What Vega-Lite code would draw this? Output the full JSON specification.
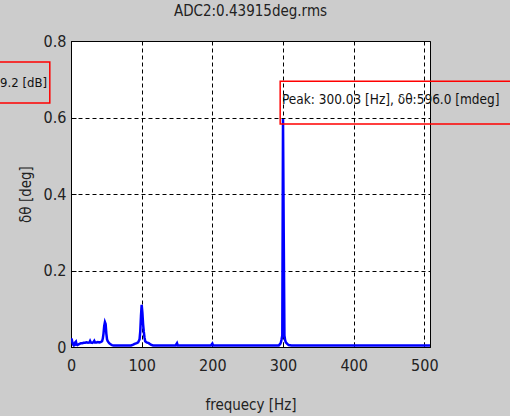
{
  "$schema": "https://vega.github.io/schema/vega-lite/v6.json",
  "autosize": "none",
  "width": 359,
  "height": 306,
  "padding": {"left": 71, "top": 41, "right": 80, "bottom": 69},
  "background": "#cccccc",
  "config": {
    "view": {"fill": "white", "stroke": "black", "strokeWidth": 1},
    "font": "DejaVu Sans Condensed, Liberation Sans, sans-serif",
    "axis": {"labelFont": "DejaVu Sans Condensed, Liberation Sans, sans-serif", "titleFont": "DejaVu Sans Condensed, Liberation Sans, sans-serif", "labelColor": "#222", "titleColor": "#222", "labelFontSize": 16, "titleFontSize": 15, "titleFontWeight": "normal", "gridColor": "black", "gridDash": [4, 3], "gridOpacity": 1, "gridWidth": 1, "domainColor": "black", "tickColor": "black", "tickSize": -5}
  },
  "title": {"text": "ADC2:0.43915deg.rms", "font": "DejaVu Sans Condensed, Liberation Sans, sans-serif", "fontSize": 15, "fontWeight": "normal", "color": "#222", "offset": 14, "anchor": "middle"},
  "datasets": {
    "spec": [
      {"f": 0, "v": 0.022}, {"f": 1, "v": 0.02}, {"f": 2, "v": 0.012}, {"f": 3, "v": 0.006}, {"f": 4, "v": 0.004},
      {"f": 5, "v": 0.005}, {"f": 6, "v": 0.012}, {"f": 7, "v": 0.014}, {"f": 8, "v": 0.006}, {"f": 9, "v": 0.005},
      {"f": 10, "v": 0.006}, {"f": 12, "v": 0.008}, {"f": 14, "v": 0.01}, {"f": 16, "v": 0.01}, {"f": 18, "v": 0.011},
      {"f": 20, "v": 0.011}, {"f": 22, "v": 0.012}, {"f": 24, "v": 0.011}, {"f": 26, "v": 0.012}, {"f": 27, "v": 0.016},
      {"f": 28, "v": 0.012}, {"f": 30, "v": 0.011}, {"f": 32, "v": 0.013}, {"f": 33, "v": 0.016}, {"f": 34, "v": 0.012},
      {"f": 36, "v": 0.012}, {"f": 38, "v": 0.013}, {"f": 40, "v": 0.012}, {"f": 42, "v": 0.013}, {"f": 44, "v": 0.015},
      {"f": 45, "v": 0.022}, {"f": 46, "v": 0.035}, {"f": 47, "v": 0.055}, {"f": 48, "v": 0.065}, {"f": 49, "v": 0.06},
      {"f": 50, "v": 0.035}, {"f": 51, "v": 0.02}, {"f": 52, "v": 0.015}, {"f": 54, "v": 0.01}, {"f": 56, "v": 0.007},
      {"f": 58, "v": 0.005}, {"f": 60, "v": 0.004}, {"f": 70, "v": 0.004}, {"f": 80, "v": 0.004}, {"f": 85, "v": 0.004},
      {"f": 88, "v": 0.006}, {"f": 90, "v": 0.008}, {"f": 93, "v": 0.01}, {"f": 95, "v": 0.012}, {"f": 97, "v": 0.02},
      {"f": 98, "v": 0.04}, {"f": 99, "v": 0.08}, {"f": 100, "v": 0.11}, {"f": 101, "v": 0.09}, {"f": 102, "v": 0.06},
      {"f": 103, "v": 0.04}, {"f": 104, "v": 0.025}, {"f": 105, "v": 0.015}, {"f": 107, "v": 0.012}, {"f": 110, "v": 0.01},
      {"f": 113, "v": 0.006}, {"f": 116, "v": 0.004}, {"f": 130, "v": 0.004}, {"f": 148, "v": 0.004}, {"f": 150, "v": 0.01},
      {"f": 151, "v": 0.004}, {"f": 175, "v": 0.004}, {"f": 198, "v": 0.004}, {"f": 200, "v": 0.009}, {"f": 201, "v": 0.004},
      {"f": 250, "v": 0.004}, {"f": 294, "v": 0.004}, {"f": 296, "v": 0.008}, {"f": 297, "v": 0.012}, {"f": 298, "v": 0.02},
      {"f": 299, "v": 0.03}, {"f": 300, "v": 0.596}, {"f": 301, "v": 0.3}, {"f": 302, "v": 0.03}, {"f": 303, "v": 0.018},
      {"f": 304, "v": 0.012}, {"f": 306, "v": 0.008}, {"f": 308, "v": 0.005}, {"f": 312, "v": 0.004}, {"f": 350, "v": 0.004},
      {"f": 400, "v": 0.004}, {"f": 450, "v": 0.004}, {"f": 508, "v": 0.004}
    ],
    "boxes": [
      {"x1": -120, "x2": -30, "y1": 0.745, "y2": 0.638},
      {"x1": 296, "x2": 700, "y1": 0.695, "y2": 0.583}
    ],
    "leftLabel": [{"x": -34, "y": 0.69, "t": "9.2 [dB]"}],
    "peakLabel": [{"x": 298.5, "y": 0.646, "t": "Peak: 300.03 [Hz], δθ:596.0 [mdeg]"}]
  },
  "layer": [
    {
      "data": {"name": "spec"},
      "mark": {"type": "line", "color": "#0000ff", "strokeWidth": 2.5, "clip": true},
      "encoding": {
        "x": {"field": "f", "type": "quantitative", "scale": {"domain": [0, 508], "nice": false, "zero": false}, "axis": {"values": [0, 100, 200, 300, 400, 500], "title": "frequecy [Hz]", "titlePadding": 24, "labelPadding": 15, "labelFlush": false, "grid": true}},
        "y": {"field": "v", "type": "quantitative", "scale": {"domain": [0, 0.8], "nice": false}, "axis": {"values": [0, 0.2, 0.4, 0.6, 0.8], "format": "~g", "title": "δθ [deg]", "titlePadding": 10, "labelPadding": 10, "labelFlush": false, "grid": true}}
      }
    },
    {
      "data": {"name": "boxes"},
      "mark": {"type": "rect", "fill": null, "fillOpacity": 0, "stroke": "#ff0000", "strokeWidth": 1.5, "clip": false},
      "encoding": {
        "x": {"field": "x1", "type": "quantitative"},
        "x2": {"field": "x2"},
        "y": {"field": "y1", "type": "quantitative"},
        "y2": {"field": "y2"}
      }
    },
    {
      "data": {"name": "leftLabel"},
      "mark": {"type": "text", "align": "right", "font": "DejaVu Sans Condensed, Liberation Sans, sans-serif", "fontSize": 13, "color": "#111", "baseline": "middle", "clip": false},
      "encoding": {
        "x": {"field": "x", "type": "quantitative"},
        "y": {"field": "y", "type": "quantitative"},
        "text": {"field": "t"}
      }
    },
    {
      "data": {"name": "peakLabel"},
      "mark": {"type": "text", "align": "left", "font": "DejaVu Sans Condensed, Liberation Sans, sans-serif", "fontSize": 13.5, "color": "#111", "baseline": "middle", "clip": false},
      "encoding": {
        "x": {"field": "x", "type": "quantitative"},
        "y": {"field": "y", "type": "quantitative"},
        "text": {"field": "t"}
      }
    }
  ]
}
